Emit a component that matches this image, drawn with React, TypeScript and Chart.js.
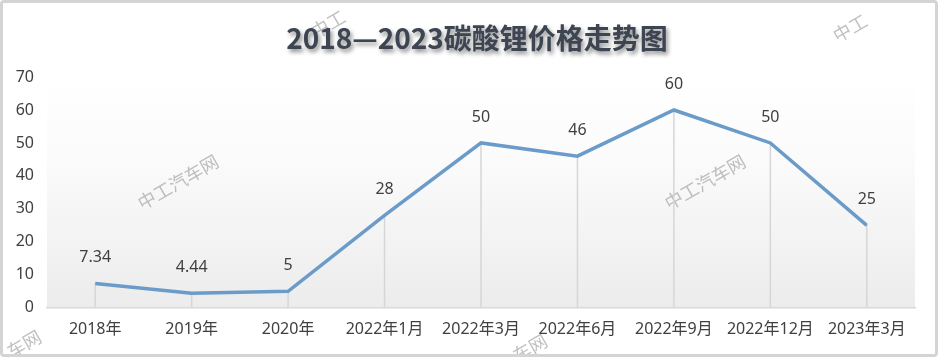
import React, { useEffect, useRef } from "react";
import { Chart, registerables } from "chart.js";

Chart.register(...registerables);

const titleText = "2018—2023碳酸锂价格走势图";
const categories = ["2018年", "2019年", "2020年", "2022年1月", "2022年3月", "2022年6月", "2022年9月", "2022年12月", "2023年3月"];
const prices = [7.34, 4.44, 5, 28, 50, 46, 60, 50, 25];
const valueLabels = ["7.34", "4.44", "5", "28", "50", "46", "60", "50", "25"];
const yMin = 0;
const yMax = 70;
const yStep = 10;
const watermarkText = "中工汽车网";

const FONT = "'Noto Sans', 'Noto Sans CJK SC', sans-serif";

export default function App() {
  const ref = useRef<HTMLCanvasElement | null>(null);

  useEffect(() => {
    const canvas = ref.current;
    if (!canvas) return;

    const bgPlugin = {
      id: "bgPlugin",
      beforeDraw(chart: any) {
        const { ctx, chartArea: a } = chart;
        ctx.save();
        ctx.fillStyle = "#ffffff";
        ctx.fillRect(0, 0, chart.width, chart.height);
        const g = ctx.createLinearGradient(0, a.top, 0, a.bottom);
        g.addColorStop(0, "#ffffff");
        g.addColorStop(0.35, "#fbfbfb");
        g.addColorStop(1, "#ececec");
        ctx.fillStyle = g;
        ctx.fillRect(a.left, a.top, a.right - a.left, a.bottom - a.top);
        // watermarks
        ctx.fillStyle = "rgba(150,150,150,0.6)";
        ctx.font = "18px 'Noto Sans CJK SC', sans-serif";
        ctx.textAlign = "center";
        ctx.textBaseline = "middle";
        const marks: [number, number, string][] = [
          [178, 182, watermarkText],
          [705, 182, watermarkText],
          [328, 24, "中工"],
          [850, 28, "中工"],
          [24, 344, "车网"],
          [530, 348, "车网"],
        ];
        for (const [x, y, t] of marks) {
          ctx.save();
          ctx.translate(x, y);
          ctx.rotate(-Math.PI / 6);
          ctx.fillText(t, 0, 0);
          ctx.restore();
        }
        ctx.restore();
      },
    };

    const dropLinePlugin = {
      id: "dropLines",
      beforeDatasetsDraw(chart: any) {
        const { ctx, chartArea: a } = chart;
        const meta = chart.getDatasetMeta(0);
        ctx.save();
        ctx.strokeStyle = "#d6d6d6";
        ctx.lineWidth = 1.5;
        meta.data.forEach((p: any) => {
          ctx.beginPath();
          ctx.moveTo(p.x, a.bottom);
          ctx.lineTo(p.x, p.y);
          ctx.stroke();
        });
        ctx.restore();
      },
    };

    const labelPlugin = {
      id: "valueLabels",
      afterDatasetsDraw(chart: any) {
        const { ctx } = chart;
        const meta = chart.getDatasetMeta(0);
        ctx.save();
        ctx.fillStyle = "#404040";
        ctx.font = "16px " + FONT;
        ctx.textAlign = "center";
        ctx.textBaseline = "middle";
        meta.data.forEach((p: any, i: number) => {
          ctx.fillText(valueLabels[i], p.x, p.y - 26);
        });
        ctx.restore();
      },
    };

    const titlePlugin = {
      id: "shadowTitle",
      afterDraw(chart: any) {
        const { ctx } = chart;
        ctx.save();
        ctx.font = "bold 28px 'Noto Sans CJK SC', sans-serif";
        ctx.textAlign = "center";
        ctx.textBaseline = "middle";
        ctx.shadowColor = "rgba(0,0,0,0.45)";
        ctx.shadowBlur = 4;
        ctx.shadowOffsetX = 2;
        ctx.shadowOffsetY = 3;
        ctx.fillStyle = "#3d4452";
        ctx.fillText(titleText, 477, 38);
        ctx.restore();
      },
    };

    const chart = new Chart(canvas, {
      type: "line",
      data: {
        labels: categories,
        datasets: [
          {
            data: prices,
            borderColor: "#6a9bc9",
            borderWidth: 3.5,
            pointRadius: 0,
            pointHoverRadius: 0,
            tension: 0,
            fill: false,
          },
        ],
      },
      options: {
        responsive: false,
        animation: false,
        layout: { padding: { left: 0, right: 23, top: 77, bottom: 14 } },
        plugins: {
          legend: { display: false },
          tooltip: { enabled: false },
          title: { display: false },
        },
        scales: {
          x: {
            offset: true,
            grid: { display: false },
            border: { display: true, color: "#d9d9d9", width: 1.5 },
            ticks: {
              color: "#404040",
              font: { size: 16, family: FONT },
              padding: 4,
              maxRotation: 0,
              autoSkip: false,
            },
          },
          y: {
            min: yMin,
            max: yMax,
            grid: { display: false },
            border: { display: false },
            ticks: {
              stepSize: yStep,
              color: "#404040",
              font: { size: 16, family: FONT },
              padding: 5,
            },
            afterFit(scale: any) {
              scale.width = 47;
            },
          },
        },
      },
      plugins: [bgPlugin, dropLinePlugin, labelPlugin, titlePlugin],
    });

    return () => chart.destroy();
  }, []);

  return (
    <div style={{ position: "fixed", left: 0, top: 0, width: 938, height: 357, background: "#fff" }}>
      <canvas ref={ref} width={938} height={357} style={{ display: "block", width: 938, height: 357 }} />
      <div
        style={{
          position: "absolute",
          inset: 0,
          border: "3px solid #d4d4d4",
          borderRadius: 4,
          boxSizing: "border-box",
          pointerEvents: "none",
        }}
      />
    </div>
  );
}
